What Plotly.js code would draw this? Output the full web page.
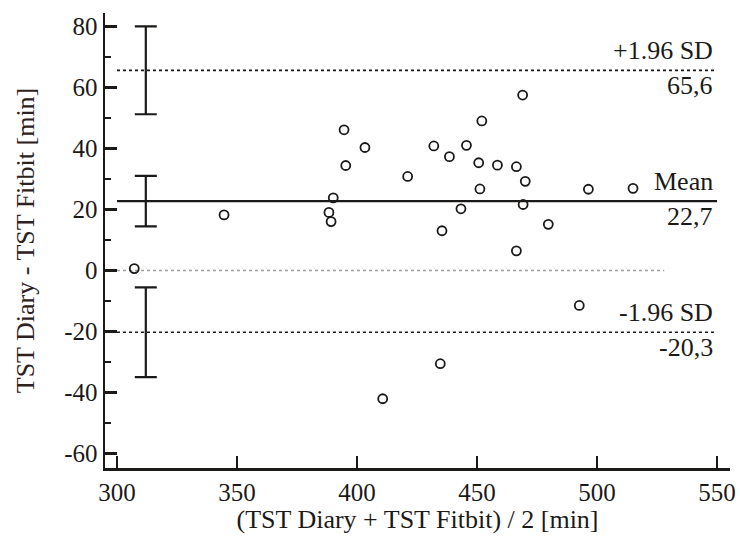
<!DOCTYPE html>
<html><head><meta charset="utf-8">
<script src="https://cdn.plot.ly/plotly-3.0.1.min.js"></script>
<style>html,body{margin:0;padding:0;background:#fff}</style>
</head><body><div id="chart" style="width:740px;height:543px"></div>
<script>
// Bland-Altman data: mean of the two methods vs difference
const meanX = [307.2, 344.6, 388.3, 389.2, 390.1, 394.6, 395.3, 403.3, 421.1, 432.0,
               438.5, 445.6, 450.7, 452.0, 458.5, 466.4, 469.0, 470.1, 469.2, 443.3,
               435.4, 479.7, 466.4, 451.2, 496.4, 515.0, 492.6, 434.7, 410.7];
const diffY = [0.6, 18.2, 19.0, 16.0, 23.8, 46.1, 34.4, 40.3, 30.8, 40.8,
               37.3, 41.0, 35.3, 49.0, 34.5, 34.0, 57.5, 29.2, 21.6, 20.2,
               13.0, 15.1, 6.4, 26.7, 26.6, 26.9, -11.5, -30.6, -42.1];

const limitLevels = [65.6, 22.7, -20.3];        // +1.96 SD, mean, -1.96 SD
const limitNames = ['+1.96 SD', 'Mean', '-1.96 SD'];
const limitValues = ['65,6', '22,7', '-20,3'];
const ciLow = [51.2, 14.4, -35.0];
const ciHigh = [80.0, 31.0, -5.6];
const ciX = [312, 312, 312];
const lineX = [300, 550];
const zeroX = [300, 528];

const xTicks = [300, 350, 400, 450, 500, 550];
const xTickLabels = ['300', '350', '400', '450', '500', '550'];
const yTicks = [-60, -40, -20, 0, 20, 40, 60, 80];
const yTickLabels = ['-60', '-40', '-20', '0', '20', '40', '60', '80'];

const font = 'Liberation Serif';
const ink = '#1c1a18';

const traces = [];
traces.push({x: zeroX, y: [0, 0], mode: 'lines', hoverinfo: 'skip',
  line: {color: '#a0a0a0', width: 1.5, dash: 'dot'}});
limitLevels.forEach((lv, i) => {
  traces.push({x: lineX, y: [lv, lv], mode: 'lines', hoverinfo: 'skip',
    line: {color: ink, width: i === 1 ? 2.2 : 1.6, dash: i === 1 ? 'solid' : 'dot'}});
});
traces.push({x: ciX, y: limitLevels, mode: 'markers', marker: {size: 1, opacity: 0},
  error_y: {type: 'data', symmetric: false,
    array: ciHigh.map((h, i) => h - limitLevels[i]),
    arrayminus: ciLow.map((l, i) => limitLevels[i] - l),
    color: ink, thickness: 2.2, width: 11}});
traces.push({x: meanX, y: diffY, mode: 'markers',
  marker: {symbol: 'circle-open', size: 9, color: ink, line: {width: 1.8, color: ink}}});

const annotations = [];
limitLevels.forEach((lv, i) => {
  annotations.push({x: 549, y: lv, xref: 'x', yref: 'y', text: limitNames[i], showarrow: false,
    xanchor: 'right', yanchor: 'bottom', yshift: 3, font: {family: font, size: 26, color: ink}});
  annotations.push({x: 549, y: lv, xref: 'x', yref: 'y', text: limitValues[i], showarrow: false,
    xanchor: 'right', yanchor: 'top', yshift: 1, font: {family: font, size: 26, color: ink}});
});

const layout = {
  width: 740, height: 543,
  margin: {l: 105, r: 10, t: 13, b: 75},
  paper_bgcolor: '#fff', plot_bgcolor: '#fff',
  showlegend: false,
  font: {family: font, size: 25, color: ink},
  xaxis: {range: [295, 555.4], tickvals: xTicks, ticktext: xTickLabels, ticks: 'inside', ticklen: 12, tickwidth: 2.5,
    tickcolor: ink, showline: true, linewidth: 2.5, linecolor: ink, showgrid: false, zeroline: false,
    tickfont: {family: font, size: 25, color: ink},
    title: {text: '(TST Diary + TST Fitbit) / 2 [min]', font: {family: font, size: 26, color: ink}, standoff: 6}},
  yaxis: {range: [-64.8, 84.4], tickvals: yTicks, ticktext: yTickLabels, ticks: 'inside', ticklen: 12, tickwidth: 2.5,
    tickcolor: ink, showline: true, linewidth: 2.5, linecolor: ink, showgrid: false, zeroline: false,
    tickfont: {family: font, size: 25, color: ink},
    minor: {dtick: 10, ticks: 'inside', ticklen: 6, tickwidth: 2, tickcolor: ink, showgrid: false},
    title: {text: 'TST Diary - TST Fitbit [min]', font: {family: font, size: 26, color: '#2e2220'}, standoff: 22}},
  annotations: annotations
};

Plotly.newPlot('chart', traces, layout, {displayModeBar: false, staticPlot: true});
</script></body></html>
